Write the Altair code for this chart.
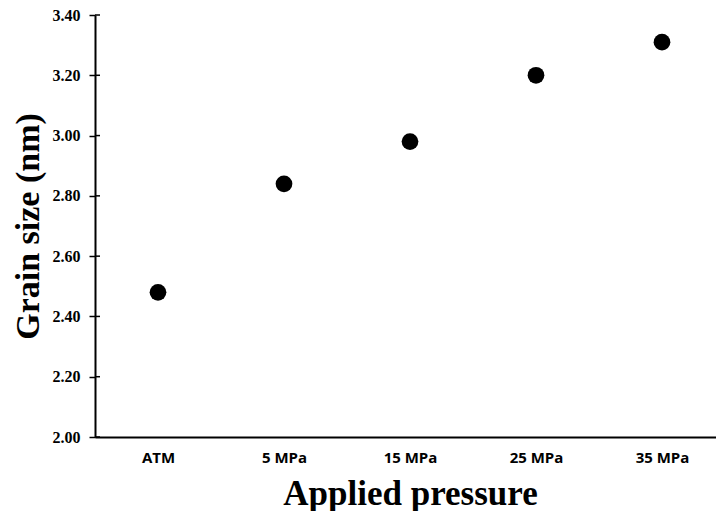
import altair as alt
import pandas as pd

categories = ["ATM", "5 MPa", "15 MPa", "25 MPa", "35 MPa"]
grain_size = [2.48, 2.84, 2.98, 3.20, 3.31]
y_ticks = [2.00, 2.20, 2.40, 2.60, 2.80, 3.00, 3.20, 3.40]

df = pd.DataFrame({"pressure": categories, "size": grain_size})
tick_df = pd.DataFrame({"t": y_ticks})

yscale = alt.Scale(domain=[2.0, 3.4], nice=False, zero=False)

points = alt.Chart(df).mark_circle(size=280, color="black", opacity=1).encode(
    x=alt.X("pressure:N", sort=categories, title="Applied pressure",
            scale=alt.Scale(paddingInner=0, paddingOuter=0, range=[0, 630]),
            axis=alt.Axis(labelAngle=0, ticks=False, domainColor="black", domainWidth=2,
                          labelFont="Open Sans", labelFontWeight="bold", labelFontSize=15,
                          labelColor="black", labelPadding=13,
                          titleFont="Liberation Serif", titleFontWeight="bold", titleFontSize=35,
                          titleColor="black", titlePadding=11, titleX=315)),
    y=alt.Y("size:Q", scale=yscale, title="Grain size (nm)",
            axis=alt.Axis(values=y_ticks, format=".2f", ticks=True, tickSize=6,
                          tickWidth=1.5, tickColor="black", grid=False,
                          domainColor="black", domainWidth=2,
                          labelFont="Liberation Serif", labelFontWeight="bold", labelFontSize=16,
                          labelColor="black", labelPadding=9,
                          titleFont="Liberation Serif", titleFontWeight="bold", titleFontSize=34,
                          titleColor="black", titlePadding=7)),
)

ticks = alt.Chart(tick_df).mark_rule(color="black", strokeWidth=1.5).encode(
    y=alt.Y("t:Q", scale=yscale),
    x=alt.value(0),
    x2=alt.value(5),
)

chart = alt.layer(points, ticks).properties(
    width=621, height=422,
    autosize=alt.AutoSizeParams(type="none"),
    padding={"left": 87, "top": 7, "right": 0, "bottom": 74},
).configure_view(stroke=None).configure_axis(grid=False)

chart.save("out.html", embed_options={"renderer": "svg", "actions": False})
